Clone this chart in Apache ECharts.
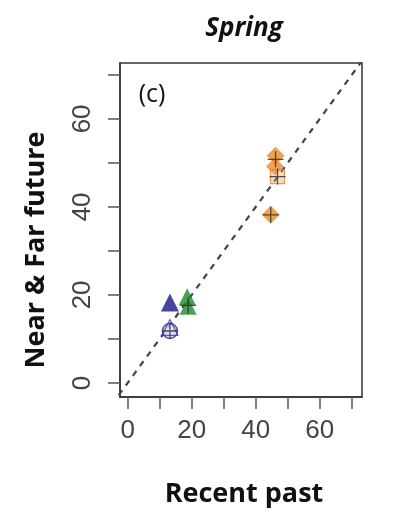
<!DOCTYPE html>
<html>
<head>
<meta charset="utf-8">
<script src="https://cdn.jsdelivr.net/npm/echarts@6/dist/echarts.min.js"></script>
<style>html,body{margin:0;padding:0;background:#fff;}#c{width:405px;height:516px;}</style>
</head>
<body>
<div id="c"></div>
<script>
// ---- data ----
const title = "Spring";
const panelLabel = "(c)";
const xName = "Recent past";
const yName = "Near & Far future";
const xTicks = [0, 10, 20, 30, 40, 50, 60, 70];
const xTickLabels = [0, 20, 40, 60];
const yTicks = [0, 10, 20, 30, 40, 50, 60, 70];
const yTickLabels = [0, 20, 40, 60];
const xRange = [-2.4, 73.2];
const yRange = [-3.2, 72.7];
const refLine = [[-5, -5], [80, 80]];
const blueFilledTri = [[13.2, 18.3]];
const blueOpenCircle = [[13.2, 11.8]];
const blueOpenTri = [[13.2, 12.6]];
const greenFilledTri = [[18.6, 19.6], [18.9, 17.4]];
const orangeFilledDiamond = [[46.2, 51.6], [46.0, 49.2], [44.7, 38.2]];
const orangeOpenSquare = [[46.8, 46.9]];
const crosses = [[46.2, 50.8], [46.8, 46.9], [44.7, 38.2], [13.2, 11.8], [18.9, 17.6]];

const plusPath = 'path://M-0.08,-1H0.08V-0.08H1V0.08H0.08V1H-0.08V0.08H-1V-0.08H-0.08Z';

const chart = echarts.init(document.getElementById('c'));
chart.setOption({
  animation: false,
  backgroundColor: '#fff',
  grid: { left: 120, right: 43, top: 63, bottom: 119, show: true, borderColor: '#333', borderWidth: 1.5, backgroundColor: 'transparent' },
  xAxis: {
    type: 'value', min: xRange[0], max: xRange[1],
    axisLine: { show: true, onZero: false, lineStyle: { color: '#333', width: 1.5 } },
    axisTick: { show: true, inside: false, length: 12, customValues: xTicks, lineStyle: { color: '#555', width: 1.5 } },
    axisLabel: { customValues: xTickLabels, fontSize: 26, color: '#444', margin: 21, fontFamily: 'Liberation Sans' },
    splitLine: { show: false }
  },
  yAxis: {
    type: 'value', min: yRange[0], max: yRange[1],
    axisLine: { show: true, onZero: false, lineStyle: { color: '#333', width: 1.5 } },
    axisTick: { show: true, inside: false, length: 12, customValues: yTicks, lineStyle: { color: '#555', width: 1.5 } },
    axisLabel: { customValues: yTickLabels, fontSize: 26, color: '#444', margin: 24, rotate: 90, fontFamily: 'Liberation Sans' },
    splitLine: { show: false }
  },
  graphic: [
    { type: 'text', x: 244, y: 29, style: { text: title, font: 'italic bold 26px "Open Sans"', fill: '#111', textAlign: 'center', textVerticalAlign: 'middle' } },
    { type: 'text', x: 152, y: 95, style: { text: panelLabel, font: '25px "Open Sans"', fill: '#111', textAlign: 'center', textVerticalAlign: 'middle' } },
    { type: 'text', x: 244, y: 494, style: { text: xName, font: 'bold 27px "Open Sans"', fill: '#111', textAlign: 'center', textVerticalAlign: 'middle' } },
    { type: 'text', x: 36, y: 250, rotation: Math.PI / 2, style: { text: yName, font: 'bold 27px "Open Sans"', fill: '#111', textAlign: 'center', textVerticalAlign: 'middle' } }
  ],
  series: [
    { type: 'line', data: refLine, symbol: 'none', clip: true, lineStyle: { color: '#444', width: 2.2, type: [6, 6] }, z: 1 },
    { type: 'scatter', data: blueOpenCircle, symbol: 'circle', symbolSize: 15, itemStyle: { color: '#d8d8f0', borderColor: '#2a2a9a', borderWidth: 1.5 } },
    { type: 'scatter', data: blueOpenTri, symbol: 'triangle', symbolSize: 16, itemStyle: { color: 'rgba(0,0,0,0)', borderColor: '#3a3aa8', borderWidth: 1.2 } },
    { type: 'scatter', data: blueFilledTri, symbol: 'triangle', symbolSize: 18, itemStyle: { color: '#18188a' } },
    { type: 'scatter', data: greenFilledTri, symbol: 'triangle', symbolSize: 17, itemStyle: { color: '#1f8a2a' } },
    { type: 'scatter', data: orangeFilledDiamond, symbol: 'diamond', symbolSize: 18, itemStyle: { color: '#e8892a' } },
    { type: 'scatter', data: orangeOpenSquare, symbol: 'rect', symbolSize: 14, itemStyle: { color: 'rgba(240,170,100,0.5)', borderColor: '#d8843a', borderWidth: 1.2 } },
    { type: 'scatter', data: crosses, symbol: plusPath, symbolSize: 16, itemStyle: { color: '#2a2a2a' }, z: 5 }
  ]
});
</script>
</body>
</html>
